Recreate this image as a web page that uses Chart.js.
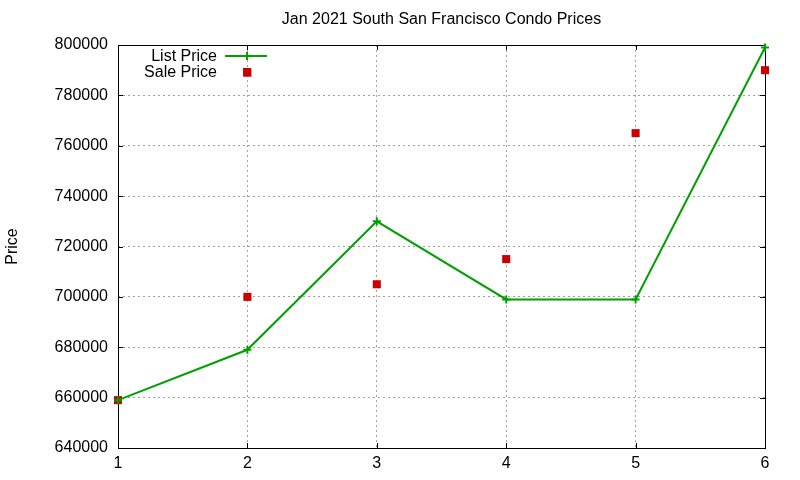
<!DOCTYPE html>
<html>
<head>
<meta charset="utf-8">
<script src="https://cdn.jsdelivr.net/npm/chart.js@4"></script>
<style>
  body { margin: 0; background: #fff; }
  canvas { display: block; }
</style>
</head>
<body>
<canvas id="myChart" width="800" height="480"></canvas>
<script>
// データ
const listX = [1, 2, 3, 4, 5, 6];
const listPrice = [659000, 679000, 730000, 699000, 699000, 799000];
const saleX = [1, 2, 2, 3, 4, 5, 6];
const salePrice = [659000, 700000, 789000, 705000, 715000, 765000, 790000];
const xTicks = [1, 2, 3, 4, 5, 6];
const chartTitle = 'Jan 2021 South San Francisco Condo Prices';

const FONT = 'Liberation Sans, Arial, sans-serif';
const GREEN = '#00a000';
const RED = '#cc0000';

// 枠線と内向きの目盛り（gnuplot 風）
const borderPlugin = {
  id: 'border',
  beforeDatasetsDraw(chart) {
    const { ctx, chartArea: a, scales } = chart;
    ctx.save();
    ctx.strokeStyle = '#000';
    ctx.lineWidth = 1;
    ctx.strokeRect(a.left + 0.5, a.top + 0.5, a.right - a.left, a.bottom - a.top);
    ctx.beginPath();
    const len = 5;
    scales.y.ticks.forEach(t => {
      const y = Math.round(scales.y.getPixelForValue(t.value)) + 0.5;
      ctx.moveTo(a.left, y); ctx.lineTo(a.left + len, y);
      ctx.moveTo(a.right, y); ctx.lineTo(a.right - len, y);
    });
    scales.x.ticks.forEach(t => {
      const x = Math.round(scales.x.getPixelForValue(t.value)) + 0.5;
      ctx.moveTo(x, a.bottom); ctx.lineTo(x, a.bottom - len);
      ctx.moveTo(x, a.top); ctx.lineTo(x, a.top + len);
    });
    ctx.stroke();
    ctx.restore();
  }
};

// タイトル（プロット領域の中央）と凡例（プロット内の左上）
const keyPlugin = {
  id: 'key',
  afterDraw(chart) {
    const { ctx, chartArea: a } = chart;
    ctx.save();
    ctx.font = '16px ' + FONT;
    ctx.fillStyle = '#000';
    ctx.textAlign = 'center';
    ctx.textBaseline = 'middle';
    ctx.fillText(chartTitle, (a.left + a.right) / 2, 20);

    ctx.textAlign = 'right';
    ctx.fillText('List Price', 217, 57);
    ctx.fillText('Sale Price', 217, 73);
    ctx.strokeStyle = GREEN;
    ctx.lineWidth = 2;
    ctx.beginPath();
    ctx.moveTo(225, 56); ctx.lineTo(267, 56);
    ctx.moveTo(247, 52); ctx.lineTo(247, 60);
    ctx.stroke();
    ctx.fillStyle = RED;
    ctx.fillRect(243, 68, 8, 8);
    ctx.restore();
  }
};

const ctx = document.getElementById('myChart').getContext('2d');
const myChart = new Chart(ctx, {
  type: 'scatter',
  data: {
    datasets: [{
      label: 'List Price',
      data: listX.map((x, i) => ({ x: x, y: listPrice[i] })),
      showLine: true,
      borderColor: GREEN,
      backgroundColor: GREEN,
      borderWidth: 2,
      tension: 0,
      pointStyle: 'cross',
      pointRadius: 4,
      pointBorderWidth: 2,
      pointBorderColor: GREEN,
      clip: false
    }, {
      label: 'Sale Price',
      data: saleX.map((x, i) => ({ x: x, y: salePrice[i] })),
      showLine: false,
      pointStyle: 'rect',
      pointRadius: 5.7,
      pointBorderWidth: 0,
      backgroundColor: RED,
      borderColor: RED,
      clip: false
    }]
  },
  options: {
    responsive: false,
    animation: false,
    layout: { padding: { top: 45, right: 35, bottom: 0, left: 0 } },
    plugins: {
      legend: { display: false },
      tooltip: { enabled: false },
      title: { display: false }
    },
    scales: {
      x: {
        type: 'linear',
        min: 1,
        max: 6,
        afterBuildTicks: s => { s.ticks = xTicks.map(v => ({ value: v })); },
        afterFit: s => { s.height = 32; },
        ticks: {
          color: '#000',
          font: { family: FONT, size: 16 },
          padding: 6,
          callback: v => String(v)
        },
        grid: { color: '#a0a0a0', drawTicks: false, lineWidth: 1 },
        border: { display: false, dash: [2, 3] }
      },
      y: {
        min: 640000,
        max: 800000,
        afterFit: s => { s.width = 118; },
        ticks: {
          stepSize: 20000,
          color: '#000',
          font: { family: FONT, size: 16 },
          padding: 10,
          callback: v => String(v)
        },
        title: {
          display: true,
          text: 'Price',
          color: '#000',
          font: { family: FONT, size: 16 },
          padding: { top: 3, bottom: 0 }
        },
        grid: { color: '#a0a0a0', drawTicks: false, lineWidth: 1 },
        border: { display: false, dash: [2, 3] }
      }
    }
  },
  plugins: [borderPlugin, keyPlugin]
});
</script>
</body>
</html>
